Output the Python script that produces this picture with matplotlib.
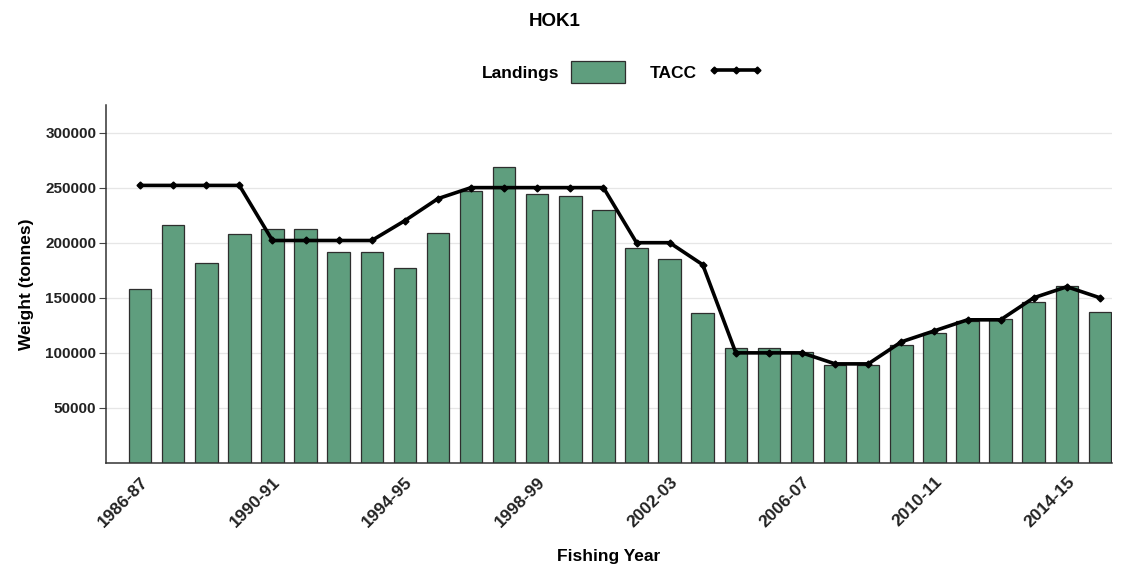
import numpy as np
import matplotlib.pyplot as plt
from matplotlib.lines import Line2D
from matplotlib.patches import Patch

plt.rcParams['font.family'] = ['Liberation Sans', 'DejaVu Sans']

years = ['1986-87', '1987-88', '1988-89', '1989-90', '1990-91', '1991-92', '1992-93',
         '1993-94', '1994-95', '1995-96', '1996-97', '1997-98', '1998-99', '1999-00',
         '2000-01', '2001-02', '2002-03', '2003-04', '2004-05', '2005-06', '2006-07',
         '2007-08', '2008-09', '2009-10', '2010-11', '2011-12', '2012-13', '2013-14',
         '2014-15', '2015-16']

landings = [158000, 216000, 182000, 208000, 212000, 212000, 192000, 192000, 177000, 209000,
            247000, 269000, 244000, 242000, 230000, 195000, 185000, 136000, 104000, 104000,
            101000, 89000, 89000, 107000, 118000, 129000, 131000, 146000, 161000, 137000]

tacc = [252000, 252000, 252000, 252000, 202000, 202000, 202000, 202000, 220000, 240000,
        250000, 250000, 250000, 250000, 250000, 200000, 200000, 180000, 100000, 100000,
        100000, 90000, 90000, 110000, 120000, 130000, 130000, 150000, 160000, 150000]

x = np.arange(len(years))

fig = plt.figure(figsize=(11.25, 5.67), dpi=100)
ax = fig.add_axes([0.0942, 0.1834, 0.8938, 0.6314])

ax.bar(x, landings, width=0.68, color='#5f9e7e', edgecolor='#2e2e2e', linewidth=0.9, zorder=2)
ax.plot(x, tacc, color='black', linewidth=2.6, marker='D', markersize=3.5, zorder=3)

ax.set_xlim(-1.03, len(years) - 0.65)
ax.set_ylim(0, 325000)
ax.set_yticks([50000, 100000, 150000, 200000, 250000, 300000])
ax.yaxis.grid(True, color='#e6e6e6', linewidth=0.9, zorder=0)
ax.set_axisbelow(True)

ax.set_xticks(x[::4])
ax.set_xticklabels(years[::4], rotation=45, ha='right', rotation_mode='anchor',
                   fontsize=12.5, fontweight='bold', color='#222222')
for lab in ax.get_yticklabels():
    lab.set_fontweight('bold')
    lab.set_fontsize(11)
    lab.set_color('#222222')
ax.tick_params(axis='x', length=0, pad=8)
ax.tick_params(axis='y', length=5, pad=2, color='#444444')

for s in ['top', 'right']:
    ax.spines[s].set_visible(False)
for s in ['left', 'bottom']:
    ax.spines[s].set_color('#333333')
    ax.spines[s].set_linewidth(1.1)

ax.set_ylabel('Weight (tonnes)', fontsize=12.5, fontweight='bold', labelpad=8)
ax.set_xlabel('Fishing Year', fontsize=12.5, fontweight='bold', labelpad=14)

fig.text(0.493, 0.962, 'HOK1', fontsize=13.5, fontweight='bold', ha='center', va='center')

handles = [Patch(facecolor='#5f9e7e', edgecolor='#2e2e2e', linewidth=0.9),
           Line2D([0], [0], color='black', linewidth=2.6, marker='D', markersize=3.5)]
fig.legend(handles, ['Landings', 'TACC'], loc='center', bbox_to_anchor=(0.553, 0.873),
           ncol=2, frameon=False, markerfirst=False, handlelength=3.1, handleheight=1.5,
           numpoints=3, columnspacing=1.4, handletextpad=0.7,
           prop={'weight': 'bold', 'size': 12.5})

fig.savefig('out.png', dpi=100)
